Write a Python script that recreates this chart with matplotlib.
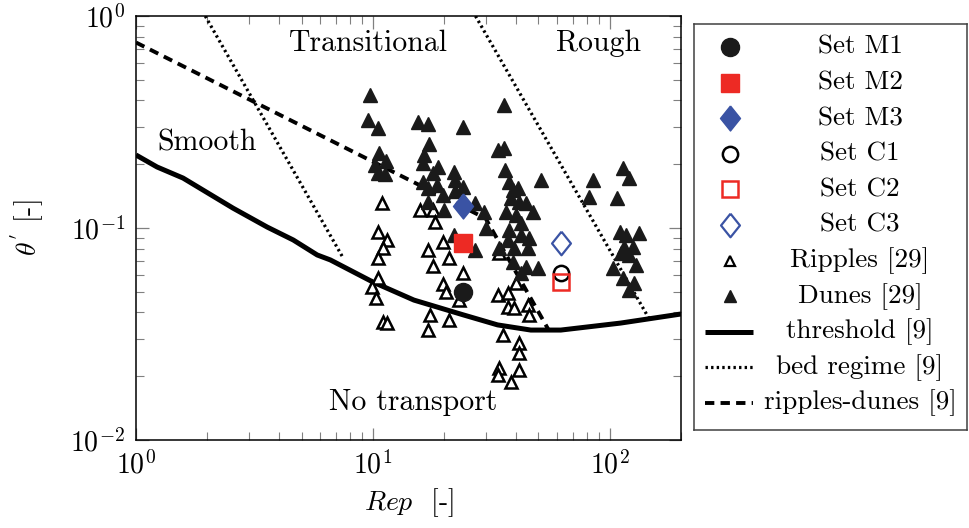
import numpy as np
import matplotlib
matplotlib.use("Agg")
import matplotlib.pyplot as plt

plt.rcParams['font.family'] = 'cmr10'
plt.rcParams['mathtext.fontset'] = 'cm'
plt.rcParams['axes.formatter.use_mathtext'] = True

red = '#ED2A24'
blue = '#3A53A4'

# Dunes [29] (filled triangles)
dunes_re = [9.76, 9.57, 10.55, 10.65, 11.40, 10.25, 10.55, 11.29,
            15.57, 17.0, 24.1, 17.3, 16.4, 16.2, 18.9, 17.9, 16.2, 17.0, 18.7, 19.7,
            22.1, 22.3, 23.9, 22.3, 17.0, 19.9, 27.1, 29.3, 29.9, 27.1, 22.1,
            35.6, 33.6, 35.6, 36.0, 51.1, 37.4, 38.9, 40.8, 38.1, 41.2, 44.1, 36.3,
            40.1, 47.2, 42.0, 37.4, 42.0, 45.5, 37.1, 33.9, 39.3, 45.0, 38.9, 44.1,
            49.6, 42.0,
            84.8, 81.5, 113.5, 120, 107, 110, 117, 133, 114.6, 125, 111, 120, 129,
            103, 113.5, 126, 120]
dunes_th = [0.424, 0.323, 0.296, 0.226, 0.207, 0.198, 0.182, 0.180,
            0.316, 0.310, 0.299, 0.249, 0.221, 0.203, 0.194, 0.182, 0.165, 0.154, 0.160, 0.143,
            0.184, 0.168, 0.156, 0.150, 0.133, 0.122, 0.131, 0.119, 0.100, 0.0787, 0.0927,
            0.380, 0.233, 0.238, 0.188, 0.168, 0.165, 0.151, 0.154, 0.139, 0.133, 0.131, 0.119,
            0.115, 0.119, 0.106, 0.098, 0.0927, 0.0897, 0.0878, 0.0805, 0.0805, 0.0805, 0.0691, 0.0655,
            0.0648, 0.0614,
            0.168, 0.140, 0.192, 0.172, 0.139, 0.0958, 0.0927, 0.0947, 0.0813, 0.0813, 0.0762, 0.0746, 0.0669,
            0.0648, 0.0581, 0.0551, 0.0510]

# Ripples [29] (open triangles)
ripples_re = [10.96, 15.88, 17.85, 18.37, 19.86, 10.55, 11.51, 11.07, 10.55, 17.0,
              21.05, 18.0, 24.1, 10.55, 9.95, 10.35, 19.86, 20.25, 23.0, 17.5,
              21.05, 11.07, 11.51, 17.0, 33.9, 40.1, 33.6, 37.1, 37.1, 39.3,
              45.0, 45.5, 35.3, 41.2, 41.2, 33.9, 33.6, 41.2, 38.1]
ripples_th = [0.131, 0.122, 0.122, 0.107, 0.0859, 0.0958, 0.0878, 0.0805, 0.0722, 0.0787,
              0.0722, 0.0662, 0.0614, 0.0581, 0.0527, 0.0468, 0.0545, 0.0499, 0.0457, 0.0389,
              0.0368, 0.0360, 0.0356, 0.0330, 0.0762, 0.0551, 0.0483, 0.0493, 0.0424, 0.0420,
              0.0433, 0.0389, 0.0313, 0.0287, 0.0257, 0.0219, 0.0203, 0.0214, 0.0188]

# measurement sets
m1 = (24.1, 0.050)
m2 = (24.1, 0.085)
m3 = (24.1, 0.127)
c1 = (62.1, 0.061)
c2 = (62.1, 0.0556)
c3 = (62.1, 0.085)

# threshold [9]
thr_re = [1.0, 1.227, 1.58, 2.57, 3.58, 4.61, 5.82, 6.61, 10.0, 14.9, 24.1, 33.6, 46.4, 62.1, 111, 200]
thr_th = [0.221, 0.194, 0.172, 0.124, 0.101, 0.0878, 0.0746, 0.0707, 0.0556, 0.0457, 0.0389,
          0.0349, 0.0330, 0.0330, 0.0356, 0.0393]

# bed regime [9]
bed1_re = [1.96, 7.5]
bed1_th = [1.0, 0.072]
bed2_re = [27.1, 146]
bed2_th = [1.0, 0.0376]

# ripples-dunes [9]
rd_re = [1.0, 29.9, 55.2]
rd_th = [0.75, 0.111, 0.033]

dotted = (0, (0.75, 1.0))
dashed = (0, (2.4, 1.6))

fig = plt.figure(figsize=(9.7, 5.28), dpi=100)
ax = fig.add_axes([0.1402, 0.1667, 0.562, 0.803])
ax.set_xscale('log')
ax.set_yscale('log')

ax.plot(bed1_re, bed1_th, color='black', lw=2.3, linestyle=dotted, zorder=2)
ax.plot(bed2_re, bed2_th, color='black', lw=2.3, linestyle=dotted, zorder=2)
ax.plot(rd_re, rd_th, color='black', lw=2.8, linestyle=dashed, zorder=2)
ax.plot(thr_re, thr_th, color='black', lw=3.6, solid_capstyle='butt', zorder=3)

ax.plot(ripples_re, ripples_th, linestyle='none', marker='^', ms=8.5, mfc='white',
        mec='black', mew=1.8, zorder=4)
ax.plot(dunes_re, dunes_th, linestyle='none', marker='^', ms=10, mfc='#1a1a1a',
        mec='#1a1a1a', zorder=5)

diamond = [(0, 1), (0.8, 0), (0, -1), (-0.8, 0), (0, 1)]
ax.plot(*m1, marker='o', ms=13, color='#1a1a1a', zorder=6)
ax.plot(*m2, marker='s', ms=12.5, color=red, zorder=6)
ax.plot(*m3, marker=diamond, ms=18, color=blue, zorder=6)
ax.plot(*c1, marker='o', ms=11, mfc='none', mec='black', mew=1.8, zorder=6)
ax.plot(*c2, marker='s', ms=12, mfc='none', mec=red, mew=1.8, zorder=6)
ax.plot(*c3, marker=diamond, ms=17, mfc='none', mec=blue, mew=1.6, zorder=6)

ax.text(9.57, 0.746, 'Transitional', fontsize=21.5, ha='center', va='center')
ax.text(89.8, 0.746, 'Rough', fontsize=21.5, ha='center', va='center')
ax.text(2.0, 0.252, 'Smooth', fontsize=21.5, ha='center', va='center')
ax.text(14.8, 0.0150, 'No transport', fontsize=21.5, ha='center', va='center')

ax.set_xlim(1, 200)
ax.set_ylim(0.01, 1)
ax.tick_params(which='both', direction='in', top=True, right=True, color='#808080',
               labelsize=20, labelcolor='black', pad=8)
ax.tick_params(which='major', length=9, width=0.9)
ax.tick_params(which='minor', length=6, width=0.8)
for s in ax.spines.values():
    s.set_linewidth(1.1)

ax.set_xlabel(r'$Rep$  [-]', fontsize=20)
ax.set_ylabel(r"$\theta^{'}$ [-]", fontsize=20)
ax.xaxis.set_label_coords(0.5, -0.11)
ax.yaxis.set_label_coords(-0.165, 0.5)

# legend drawn in its own box, text centred like the original
lg = fig.add_axes([0.7155, 0.1856, 0.2814, 0.769])
lg.set_xlim(0, 273)
lg.set_ylim(0, 406)
lg.set_xticks([])
lg.set_yticks([])
for s in lg.spines.values():
    s.set_linewidth(1.1)
    s.set_color('#404040')

labels = ['Set M1', 'Set M2', 'Set M3', 'Set C1', 'Set C2', 'Set C3',
          'Ripples [29]', 'Dunes [29]', 'threshold [9]', 'bed regime [9]', 'ripples-dunes [9]']
rows = [383 - 35.6 * i for i in range(len(labels))]
mx = 36
lg.plot(mx, rows[0], marker='o', ms=13, color='#1a1a1a')
lg.plot(mx, rows[1], marker='s', ms=12.5, color=red)
lg.plot(mx, rows[2], marker=diamond, ms=18, color=blue)
lg.plot(mx, rows[3], marker='o', ms=11, mfc='none', mec='black', mew=1.8)
lg.plot(mx, rows[4], marker='s', ms=12, mfc='none', mec=red, mew=1.8)
lg.plot(mx, rows[5], marker=diamond, ms=17, mfc='none', mec=blue, mew=1.6)
lg.plot(mx, rows[6], marker='^', ms=7.5, mfc='white', mec='black', mew=1.6)
lg.plot(mx, rows[7], marker='^', ms=8.5, color='#1a1a1a')
lg.plot([11, 59], [rows[8]] * 2, color='black', lw=3.6, solid_capstyle='butt')
lg.plot([11, 59], [rows[9]] * 2, color='black', lw=2.3, linestyle=dotted)
lg.plot([11, 59], [rows[10]] * 2, color='black', lw=2.8, linestyle=dashed)
for lab, r in zip(labels, rows):
    lg.text(166, r, lab, fontsize=19.5, ha='center', va='center')

fig.savefig('out.png', dpi=100)
